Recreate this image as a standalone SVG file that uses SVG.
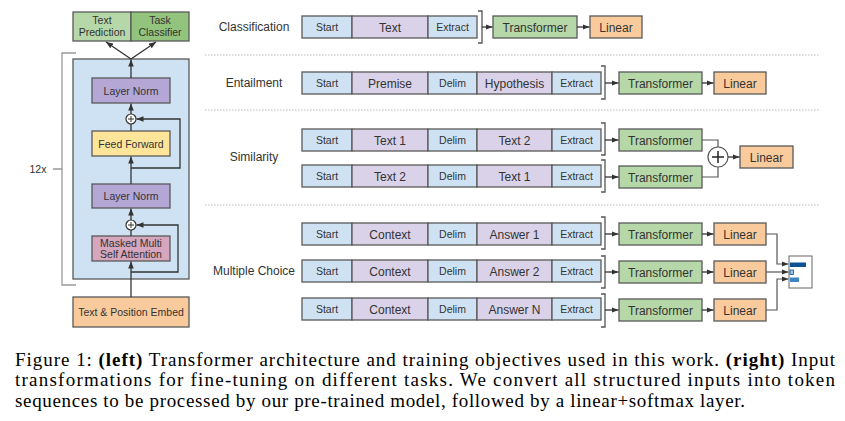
<svg xmlns="http://www.w3.org/2000/svg" width="845" height="421" viewBox="0 0 845 421">
<defs>
<marker id="ah" viewBox="0 0 10 10" refX="10" refY="5" markerWidth="7" markerHeight="7" markerUnits="userSpaceOnUse" orient="auto"><path d="M0,1 L10,5 L0,9 z" fill="#333"/></marker>
<style>
.bx{stroke:#595959;stroke-width:1.3}
.b{fill:#cfe2f3}.p{fill:#d9d2e9}.g{fill:#b6d7a8}.g2{fill:#93c47d}.o{fill:#f9cb9c}.lp{fill:#b4a7d6}.y{fill:#ffe599}.pk{fill:#d5a6bd}
.t{font-family:"Liberation Sans",Arial,sans-serif;font-size:12px;fill:#333;text-anchor:middle}
.s{font-family:"Liberation Sans",Arial,sans-serif;font-size:10.5px;fill:#333;text-anchor:middle}
.lab{font-family:"Liberation Sans",Arial,sans-serif;font-size:12px;fill:#333;text-anchor:middle}
.ln{fill:none;stroke:#333;stroke-width:1.3}
.br{fill:none;stroke:#555;stroke-width:1.3}
.sep{fill:none;stroke:#bbb;stroke-width:1;stroke-dasharray:1.5,1.5}
.cap{font-family:"Liberation Serif","Times New Roman",serif;font-size:19px;fill:#000}
</style>
</defs>
<rect width="845" height="421" fill="#fff"/>

<!-- LEFT: transformer -->
<g id="block"><rect x="73" y="59" width="116" height="220" class="bx b"/></g>
<g id="bracket12"><path d="M76,53 H62 V285 H76 M62,169 H53" fill="none" stroke="#999" stroke-width="1.3"/><text x="38" y="173" class="s" fill="#555">12x</text></g>
<g id="textpred"><rect x="73" y="12" width="58" height="29" class="bx g"/><text x="102" y="24" class="s">Text</text><text x="102" y="36" class="s">Prediction</text></g>
<g id="taskcls"><rect x="131" y="12" width="58" height="29" class="bx g2"/><text x="160" y="24" class="s">Task</text><text x="160" y="36" class="s">Classifier</text></g>
<g id="ln1"><rect x="92" y="78" width="78" height="25" class="bx lp"/><text x="131" y="94.5" class="s">Layer Norm</text></g>
<g id="plus1"><circle cx="131" cy="119" r="5" fill="#fff" stroke="#333" stroke-width="1.2"/><path d="M128,119 H134 M131,116 V122" stroke="#333" stroke-width="1"/></g>
<g id="ff"><rect x="92" y="131" width="78" height="25" class="bx y"/><text x="131" y="147.5" class="s">Feed Forward</text></g>
<g id="ln2"><rect x="92" y="184" width="78" height="24" class="bx lp"/><text x="131" y="200" class="s">Layer Norm</text></g>
<g id="plus2"><circle cx="131" cy="225" r="5" fill="#fff" stroke="#333" stroke-width="1.2"/><path d="M128,225 H134 M131,222 V228" stroke="#333" stroke-width="1"/></g>
<g id="mmsa"><rect x="92" y="236" width="78" height="25" class="bx pk"/><text x="131" y="246.5" class="s">Masked Multi</text><text x="131" y="258" class="s">Self Attention</text></g>
<g id="embed"><rect x="73" y="297" width="116" height="30" class="bx o"/><text x="131" y="316" class="s">Text &amp; Position Embed</text></g>

<g id="left-connectors">
<path d="M131,78 V59.5" class="ln" marker-end="url(#ah)"/>
<path d="M131,59 L106,42" class="ln" marker-end="url(#ah)"/>
<path d="M131,59 L156,42" class="ln" marker-end="url(#ah)"/>
<path d="M131,114 V103.5" class="ln" marker-end="url(#ah)"/>
<path d="M131,131 V124"  class="ln"/>
<path d="M131,184 V156.5" class="ln" marker-end="url(#ah)"/>
<path d="M131,168 H180 V119 H136.5" class="ln" marker-end="url(#ah)"/>
<path d="M131,220 V208.5" class="ln" marker-end="url(#ah)"/>
<path d="M131,236 V230" class="ln"/>
<path d="M131,297 V261.5" class="ln" marker-end="url(#ah)"/>
<path d="M131,272 H178 V225 H136.5" class="ln" marker-end="url(#ah)"/>
</g>

<!-- RIGHT: separators -->
<g id="separators">
<path d="M205,55 H820" class="sep"/>
<path d="M205,110 H820" class="sep"/>
<path d="M205,205 H820" class="sep"/>
</g>

<!-- Classification -->
<text x="254" y="31" class="lab">Classification</text>
<g id="cls-seq">
<rect x="302" y="16" width="50" height="22" class="bx b"/><text x="327" y="31" class="s">Start</text>
<rect x="352" y="16" width="76" height="22" class="bx p"/><text x="390" y="31.5" class="t">Text</text>
<rect x="428" y="16" width="49" height="22" class="bx b"/><text x="452.5" y="31" class="s">Extract</text>
</g>
<g id="cls-tr"><rect x="493" y="16" width="84" height="22" class="bx g"/><text x="535" y="31.5" class="t">Transformer</text></g>
<g id="cls-lin"><rect x="590" y="16" width="52" height="22" class="bx o"/><text x="616" y="31.5" class="t">Linear</text></g>

<!-- Entailment -->
<text x="254" y="87" class="lab">Entailment</text>
<g id="ent-seq">
<rect x="302" y="72" width="50" height="22" class="bx b"/><text x="327" y="87" class="s">Start</text>
<rect x="352" y="72" width="76" height="22" class="bx p"/><text x="390" y="87.5" class="t">Premise</text>
<rect x="428" y="72" width="49" height="22" class="bx b"/><text x="452.5" y="87" class="s">Delim</text>
<rect x="477" y="72" width="75" height="22" class="bx p"/><text x="514.5" y="87.5" class="t">Hypothesis</text>
<rect x="552" y="72" width="49" height="22" class="bx b"/><text x="576.5" y="87" class="s">Extract</text>
</g>
<g id="ent-tr"><rect x="619" y="72" width="83" height="22" class="bx g"/><text x="660.5" y="87.5" class="t">Transformer</text></g>
<g id="ent-lin"><rect x="714" y="72" width="52" height="22" class="bx o"/><text x="740" y="87.5" class="t">Linear</text></g>

<!-- Similarity -->
<text x="254" y="161" class="lab">Similarity</text>
<g id="sim1-seq">
<rect x="302" y="129" width="50" height="22" class="bx b"/><text x="327" y="144" class="s">Start</text>
<rect x="352" y="129" width="76" height="22" class="bx p"/><text x="390" y="144.5" class="t">Text 1</text>
<rect x="428" y="129" width="49" height="22" class="bx b"/><text x="452.5" y="144" class="s">Delim</text>
<rect x="477" y="129" width="75" height="22" class="bx p"/><text x="514.5" y="144.5" class="t">Text 2</text>
<rect x="552" y="129" width="49" height="22" class="bx b"/><text x="576.5" y="144" class="s">Extract</text>
</g>
<g id="sim2-seq">
<rect x="302" y="165" width="50" height="22" class="bx b"/><text x="327" y="180" class="s">Start</text>
<rect x="352" y="165" width="76" height="22" class="bx p"/><text x="390" y="180.5" class="t">Text 2</text>
<rect x="428" y="165" width="49" height="22" class="bx b"/><text x="452.5" y="180" class="s">Delim</text>
<rect x="477" y="165" width="75" height="22" class="bx p"/><text x="514.5" y="180.5" class="t">Text 1</text>
<rect x="552" y="165" width="49" height="22" class="bx b"/><text x="576.5" y="180" class="s">Extract</text>
</g>
<g id="sim-tr1"><rect x="619" y="129" width="83" height="22" class="bx g"/><text x="660.5" y="144.5" class="t">Transformer</text></g>
<g id="sim-tr2"><rect x="619" y="166" width="83" height="22" class="bx g"/><text x="660.5" y="181.5" class="t">Transformer</text></g>
<g id="sim-plus"><circle cx="718" cy="157" r="10" fill="#fff" stroke="#555" stroke-width="1.2"/><path d="M712,157 H724 M718,151 V163" stroke="#222" stroke-width="1.5"/></g>
<g id="sim-lin"><rect x="740" y="146" width="53" height="22" class="bx o"/><text x="766.5" y="161.5" class="t">Linear</text></g>

<!-- Multiple Choice -->
<text x="254" y="275" class="lab">Multiple Choice</text>
<g id="mc1-seq">
<rect x="302" y="223" width="50" height="22" class="bx b"/><text x="327" y="238" class="s">Start</text>
<rect x="352" y="223" width="76" height="22" class="bx p"/><text x="390" y="238.5" class="t">Context</text>
<rect x="428" y="223" width="49" height="22" class="bx b"/><text x="452.5" y="238" class="s">Delim</text>
<rect x="477" y="223" width="75" height="22" class="bx p"/><text x="514.5" y="238.5" class="t">Answer 1</text>
<rect x="552" y="223" width="49" height="22" class="bx b"/><text x="576.5" y="238" class="s">Extract</text>
</g>
<g id="mc2-seq">
<rect x="302" y="260" width="50" height="22" class="bx b"/><text x="327" y="275" class="s">Start</text>
<rect x="352" y="260" width="76" height="22" class="bx p"/><text x="390" y="275.5" class="t">Context</text>
<rect x="428" y="260" width="49" height="22" class="bx b"/><text x="452.5" y="275" class="s">Delim</text>
<rect x="477" y="260" width="75" height="22" class="bx p"/><text x="514.5" y="275.5" class="t">Answer 2</text>
<rect x="552" y="260" width="49" height="22" class="bx b"/><text x="576.5" y="275" class="s">Extract</text>
</g>
<g id="mc3-seq">
<rect x="302" y="298" width="50" height="22" class="bx b"/><text x="327" y="313" class="s">Start</text>
<rect x="352" y="298" width="76" height="22" class="bx p"/><text x="390" y="313.5" class="t">Context</text>
<rect x="428" y="298" width="49" height="22" class="bx b"/><text x="452.5" y="313" class="s">Delim</text>
<rect x="477" y="298" width="75" height="22" class="bx p"/><text x="514.5" y="313.5" class="t">Answer N</text>
<rect x="552" y="298" width="49" height="22" class="bx b"/><text x="576.5" y="313" class="s">Extract</text>
</g>
<g id="mc-tr1"><rect x="619" y="223" width="83" height="22" class="bx g"/><text x="660.5" y="238.5" class="t">Transformer</text></g>
<g id="mc-tr2"><rect x="619" y="261" width="83" height="22" class="bx g"/><text x="660.5" y="276.5" class="t">Transformer</text></g>
<g id="mc-tr3"><rect x="619" y="299" width="83" height="22" class="bx g"/><text x="660.5" y="314.5" class="t">Transformer</text></g>
<g id="mc-lin1"><rect x="714" y="223" width="52" height="22" class="bx o"/><text x="740" y="238.5" class="t">Linear</text></g>
<g id="mc-lin2"><rect x="714" y="261" width="52" height="22" class="bx o"/><text x="740" y="276.5" class="t">Linear</text></g>
<g id="mc-lin3"><rect x="714" y="299" width="52" height="22" class="bx o"/><text x="740" y="314.5" class="t">Linear</text></g>
<g id="softmax">
<rect x="789" y="256" width="23" height="32" fill="#fff" stroke="#666" stroke-width="1"/>
<rect x="790" y="262.5" width="16" height="4.5" fill="#0b5394"/>
<rect x="790" y="270" width="3.5" height="4.5" fill="#9fc5e8" stroke="#0b5394" stroke-width="0.8"/>
<rect x="790" y="277.5" width="9" height="4.5" fill="#3d85c6"/>
</g>

<g id="right-connectors">
<path d="M478,11 H482 V43 H478" class="br"/>
<path d="M482,27 H492.5" class="ln" marker-end="url(#ah)"/>
<path d="M577,27 H589.5" class="ln" marker-end="url(#ah)"/>
<path d="M601,66 H605 V99 H601" class="br"/>
<path d="M605,83 H618.5" class="ln" marker-end="url(#ah)"/>
<path d="M702,83 H713.5" class="ln" marker-end="url(#ah)"/>
<path d="M601,123 H605 V155 H601" class="br"/>
<path d="M605,140 H618.5" class="ln" marker-end="url(#ah)"/>
<path d="M601,160 H605 V192 H601" class="br"/>
<path d="M605,177 H618.5" class="ln" marker-end="url(#ah)"/>
<path d="M702,140 H718 V147" fill="none" stroke="#555" stroke-width="1.2"/>
<path d="M702,177 H718 V167" fill="none" stroke="#555" stroke-width="1.2"/>
<path d="M728,157 H739.5" class="ln" marker-end="url(#ah)"/>
<path d="M601,217 H605 V249 H601" class="br"/>
<path d="M605,234 H618.5" class="ln" marker-end="url(#ah)"/>
<path d="M601,256 H605 V288 H601" class="br"/>
<path d="M605,272 H618.5" class="ln" marker-end="url(#ah)"/>
<path d="M601,294 H605 V327 H601" class="br"/>
<path d="M605,310 H618.5" class="ln" marker-end="url(#ah)"/>
<path d="M702,234 H713.5" class="ln" marker-end="url(#ah)"/>
<path d="M702,272 H713.5" class="ln" marker-end="url(#ah)"/>
<path d="M702,310 H713.5" class="ln" marker-end="url(#ah)"/>
<path d="M766,234 H777 V264 H788.5" fill="none" stroke="#555" stroke-width="1.2" marker-end="url(#ah)"/>
<path d="M766,272 H788.5" fill="none" stroke="#555" stroke-width="1.2" marker-end="url(#ah)"/>
<path d="M766,310 H777 V279 H788.5" fill="none" stroke="#555" stroke-width="1.2" marker-end="url(#ah)"/>
</g>

<!-- Caption -->
<text x="15" y="365.5" class="cap" textLength="820" lengthAdjust="spacing">Figure 1: <tspan font-weight="bold">(left)</tspan> Transformer architecture and training objectives used in this work. <tspan font-weight="bold">(right)</tspan> Input</text>
<text x="15" y="386" class="cap" textLength="820" lengthAdjust="spacing">transformations for fine-tuning on different tasks.  We convert all structured inputs into token</text>
<text x="15" y="406.5" class="cap" textLength="730" lengthAdjust="spacing">sequences to be processed by our pre-trained model, followed by a linear+softmax layer.</text>
</svg>
